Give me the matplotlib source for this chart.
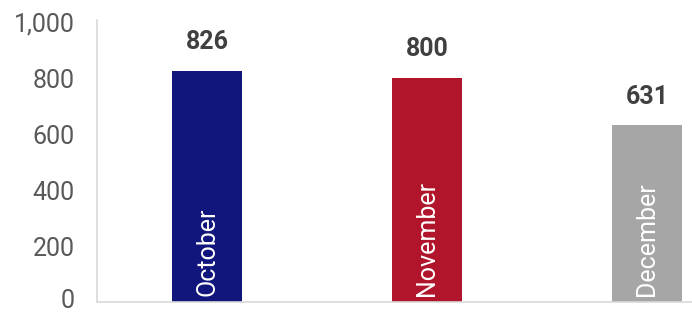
import matplotlib
matplotlib.use("Agg")
import matplotlib.pyplot as plt
from matplotlib.transforms import ScaledTranslation

months = ["October", "November", "December"]
values = [826, 800, 631]
colors = ["#10167c", "#b0152b", "#a6a6a6"]
yticks = [0, 200, 400, 600, 800, 1000]
ytick_labels = ["0", "200", "400", "600", "800", "1,000"]

plt.rcParams['font.family'] = ['Roboto', 'DejaVu Sans']

fig = plt.figure(figsize=(6.92, 3.14), dpi=100)
ax = fig.add_axes([97/692, (314-302)/314, (692-97)/692, 282/314])

x = list(range(len(months)))
ax.bar(x, values, width=0.314, color=colors)
ax.set_xlim(-0.5, (692-97)/220 - 0.5)
ax.set_ylim(0, 1000 / 280 * 282)
ax.set_yticks(yticks)
ax.set_yticklabels(ytick_labels)
ax.tick_params(axis='y', length=0, labelsize=18, labelcolor="#595959", pad=16)
ax.set_xticks([])
for s in ["top", "right"]:
    ax.spines[s].set_visible(False)
for s in ["left", "bottom"]:
    ax.spines[s].set_color("#d9d9d9")
    ax.spines[s].set_linewidth(1.2)

# nudge the "0" label up slightly so it stays inside the canvas
lbl0 = ax.get_yticklabels()[0]
lbl0.set_transform(lbl0.get_transform() + ScaledTranslation(0, 3/100, fig.dpi_scale_trans))

for xi, v, m in zip(x, values, months):
    ax.annotate(f"{v:,}", (xi, v), xytext=(0, 12), textcoords="offset points",
                ha="center", va="bottom", fontsize=18, fontweight="bold", color="#404040")
    ax.annotate(m, (xi, 0), xytext=(0, 4), textcoords="offset points",
                ha="center", va="bottom", rotation=90, fontsize=18, color="white")

fig.savefig("out.png", dpi=100)
